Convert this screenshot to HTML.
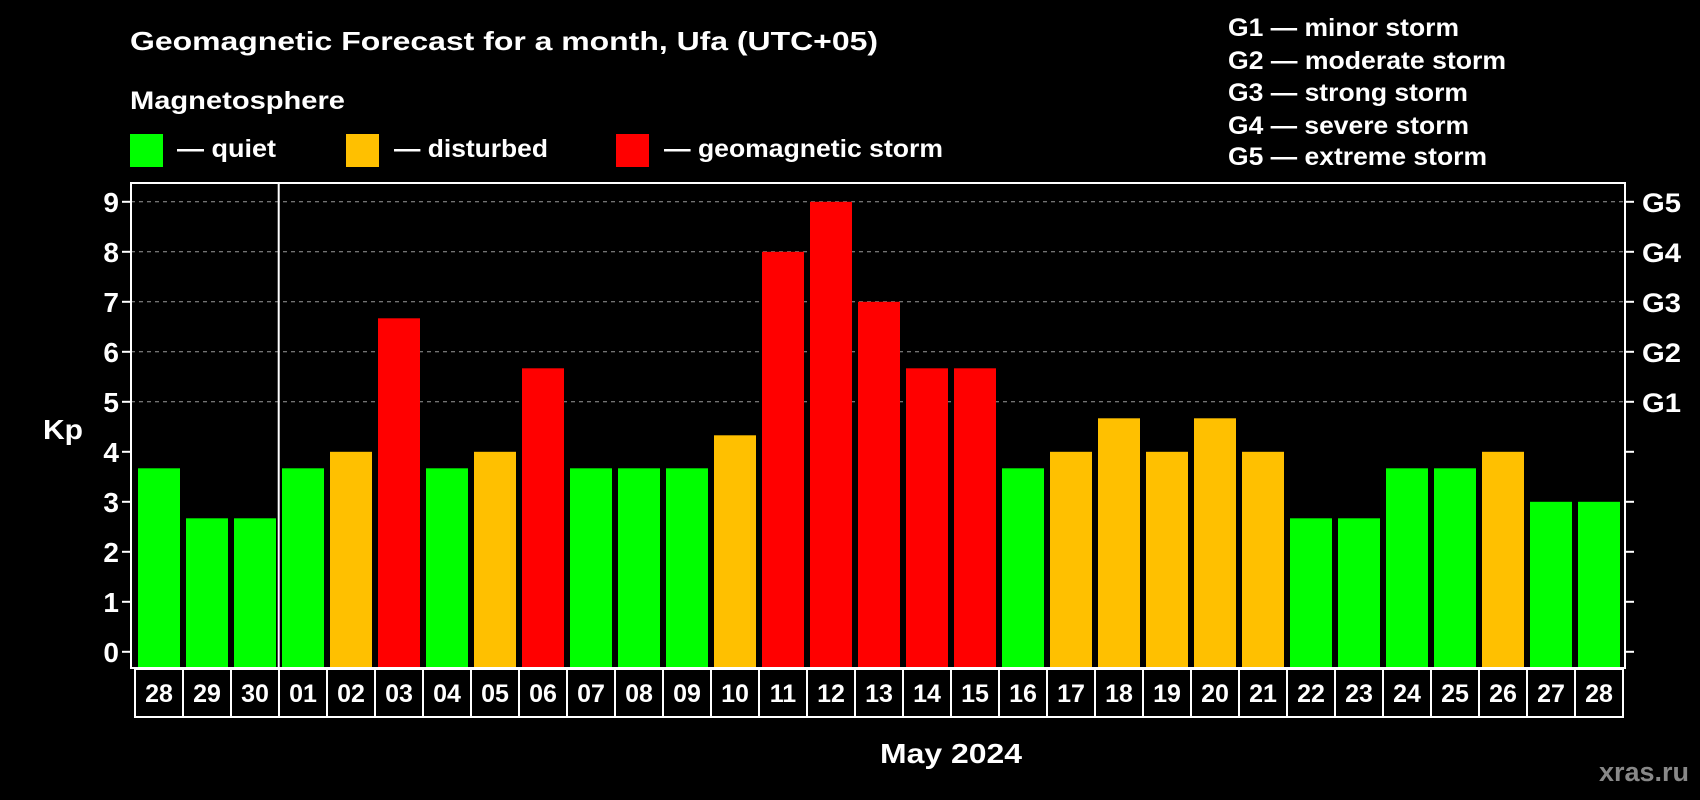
<!DOCTYPE html>
<html><head><meta charset="utf-8"><style>
body{margin:0;background:#000;width:1700px;height:800px;overflow:hidden}
svg{display:block;font-family:"Liberation Sans",Arial,sans-serif;font-weight:bold}
</style></head><body>
<svg id="c" width="1700" height="800">
<text x="130" y="50" fill="#fff" font-size="26" textLength="748" lengthAdjust="spacingAndGlyphs">Geomagnetic Forecast for a month, Ufa (UTC+05)</text>
<text x="130" y="109" fill="#fff" font-size="25" textLength="215" lengthAdjust="spacingAndGlyphs">Magnetosphere</text>
<rect x="130" y="134" width="33" height="33" fill="#00ff00"/>
<text x="177" y="157" fill="#fff" font-size="25" textLength="99" lengthAdjust="spacingAndGlyphs">— quiet</text>
<rect x="346" y="134" width="33" height="33" fill="#ffc000"/>
<text x="394" y="157" fill="#fff" font-size="25" textLength="154" lengthAdjust="spacingAndGlyphs">— disturbed</text>
<rect x="616" y="134" width="33" height="33" fill="#ff0000"/>
<text x="664" y="157" fill="#fff" font-size="25" textLength="279" lengthAdjust="spacingAndGlyphs">— geomagnetic storm</text>
<g fill="#fff" font-size="25" lengthAdjust="spacingAndGlyphs">
<text x="1228" y="36" textLength="231" lengthAdjust="spacingAndGlyphs">G1 — minor storm</text>
<text x="1228" y="69" textLength="278" lengthAdjust="spacingAndGlyphs">G2 — moderate storm</text>
<text x="1228" y="101" textLength="240" lengthAdjust="spacingAndGlyphs">G3 — strong storm</text>
<text x="1228" y="134" textLength="241" lengthAdjust="spacingAndGlyphs">G4 — severe storm</text>
<text x="1228" y="165" textLength="259" lengthAdjust="spacingAndGlyphs">G5 — extreme storm</text>
</g>
<text x="43" y="439" fill="#fff" font-size="28" textLength="40" lengthAdjust="spacingAndGlyphs">Kp</text>
<text x="880" y="763" fill="#fff" font-size="28" textLength="142" lengthAdjust="spacingAndGlyphs">May 2024</text>
<text x="1689" y="781" fill="#888" font-size="27" text-anchor="end">xras.ru</text>
<g id="g"></g>
</svg>
<script>
const days=["28","29","30","01","02","03","04","05","06","07","08","09","10","11","12","13","14","15","16","17","18","19","20","21","22","23","24","25","26","27","28"];
const kp=[3.67,2.67,2.67,3.67,4,6.67,3.67,4,5.67,3.67,3.67,3.67,4.33,8,9,7,5.67,5.67,3.67,4,4.67,4,4.67,4,2.67,2.67,3.67,3.67,4,3,3];
const yTicks=[0,1,2,3,4,5,6,7,8,9];
const gLabels=["G1","G2","G3","G4","G5"];
const gLevels=[5,6,7,8,9];
const NS="http://www.w3.org/2000/svg",g=document.getElementById('g');
const L=131,R=1625,T=183,B=668;
const y=v=>651.8-v*50;
const x=i=>138+i*48;
function mk(t,a){const e=document.createElementNS(NS,t);for(const k in a)e.setAttribute(k,a[k]);g.appendChild(e);return e;}
gLevels.forEach(v=>{const e=mk('line',{x1:L,x2:R,y1:y(v),y2:y(v),stroke:'#999','stroke-dasharray':'4,4','stroke-width':1});

});
kp.forEach((v,i)=>{const c=v<4?'#00ff00':(v<5?'#ffc000':'#ff0000');
const e=mk('rect',{x:x(i),y:y(v),width:42,height:B-y(v),fill:c});

});
mk('line',{x1:278.7,x2:278.7,y1:T,y2:B,stroke:'#fff','stroke-width':2});
const f=mk('rect',{x:L,y:T,width:R-L,height:B-T,fill:'none',stroke:'#fff','stroke-width':2});


yTicks.forEach(v=>{mk('line',{x1:L-9,x2:L,y1:y(v),y2:y(v),stroke:'#fff','stroke-width':2});
mk('line',{x1:R,x2:R+9,y1:y(v),y2:y(v),stroke:'#fff','stroke-width':2});
const t=mk('text',{x:L-12,y:y(v)+10,fill:'#fff','font-size':28,'text-anchor':'end'});t.textContent=v;

});
gLabels.forEach((s,i)=>{const t=mk('text',{x:1642,y:y(gLevels[i])+10,fill:'#fff','font-size':27,textLength:39,lengthAdjust:'spacingAndGlyphs'});t.textContent=s;

});
days.forEach((d,i)=>{mk('rect',{x:135+i*48,y:669,width:48,height:48,fill:'none',stroke:'#fff','stroke-width':2});
const t=mk('text',{x:159+i*48,y:702,fill:'#fff','font-size':25,'text-anchor':'middle'});t.textContent=d;

});
</script>
</body></html>
